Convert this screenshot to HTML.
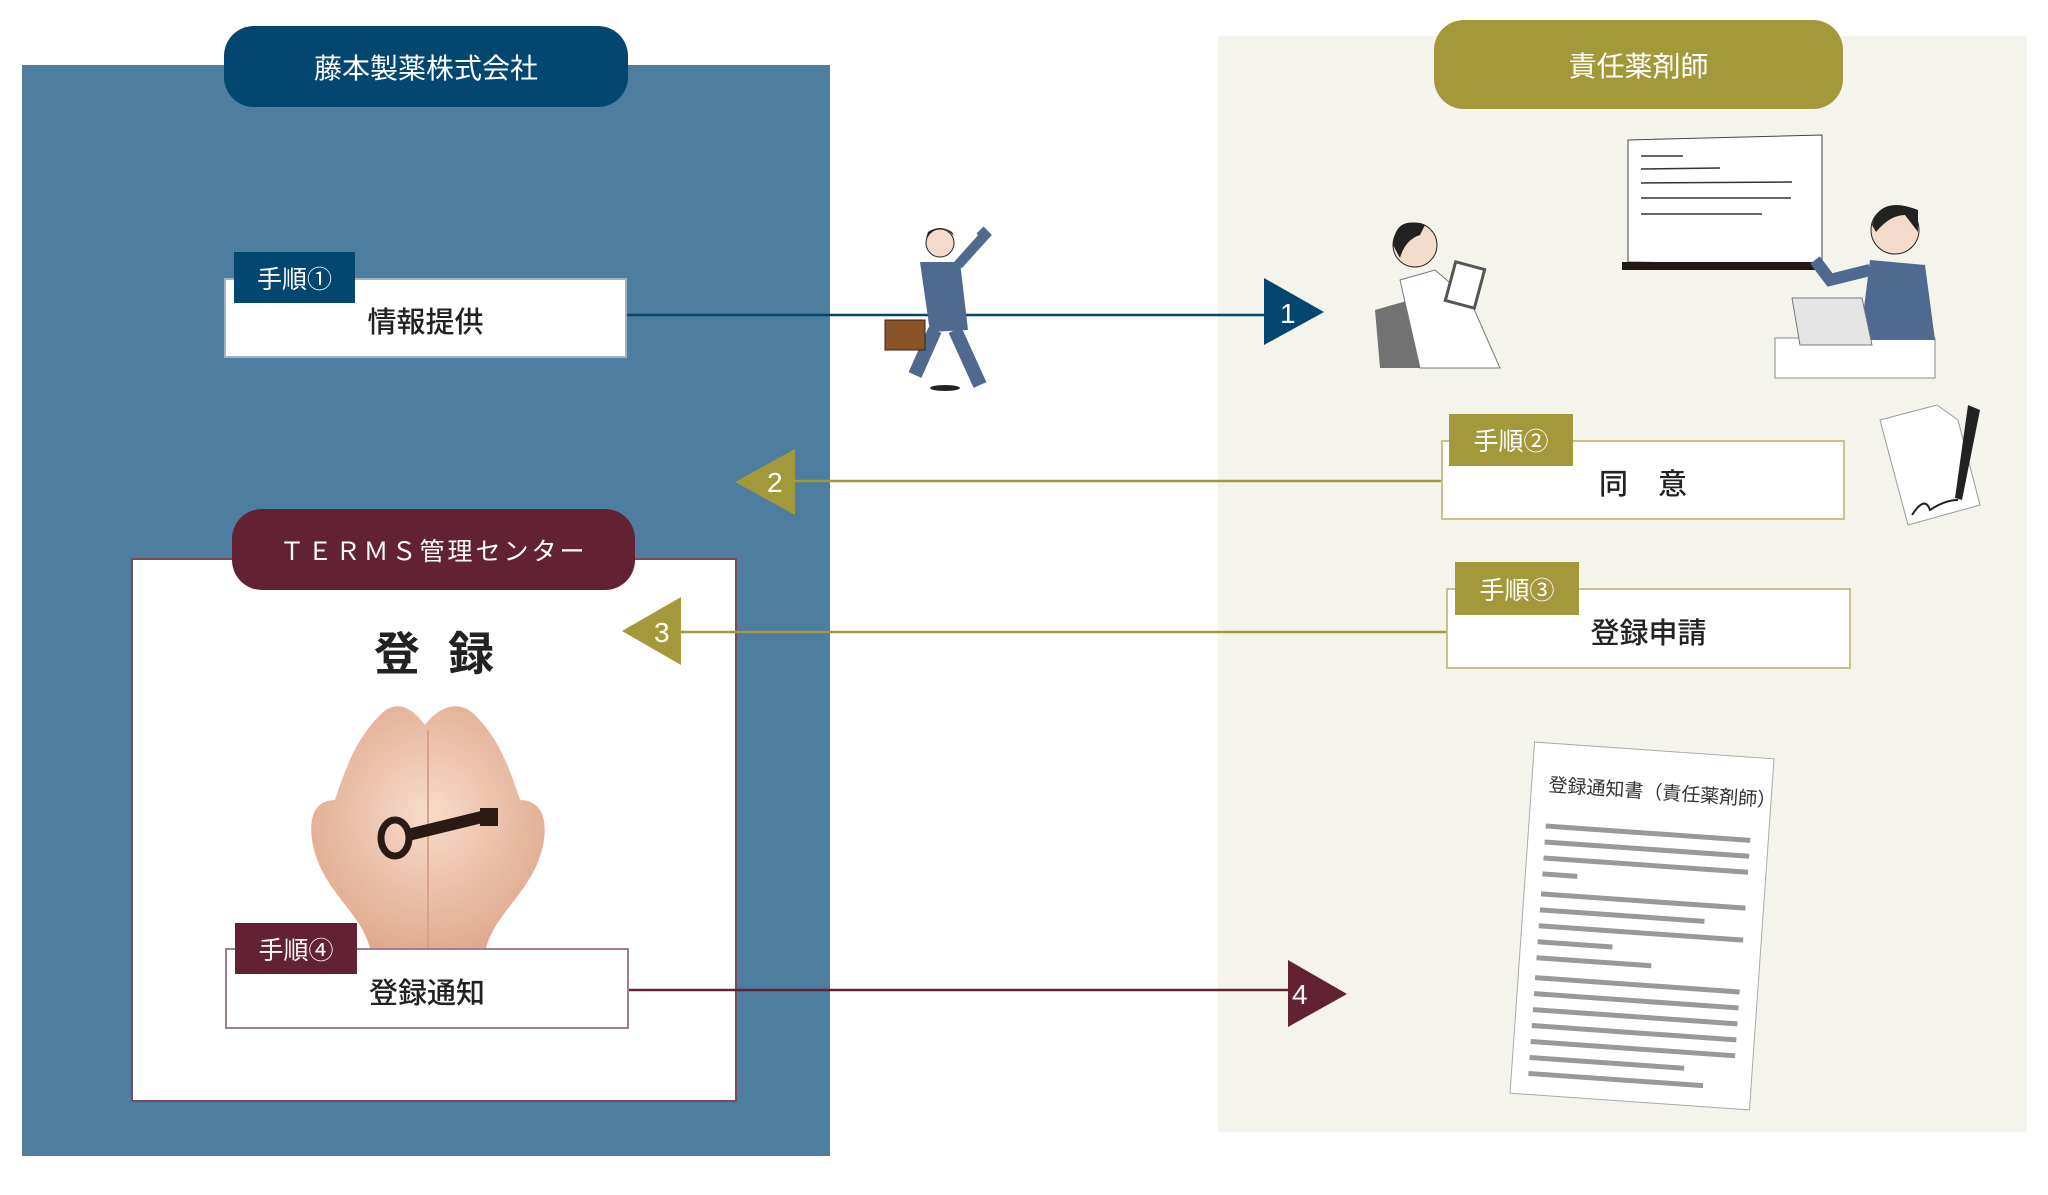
<!DOCTYPE html>
<html><head><meta charset="utf-8"><style>
body{margin:0;width:2048px;height:1195px;background:#fff;position:relative;overflow:hidden;font-family:"Liberation Sans","Noto Sans CJK JP",sans-serif}
.a{position:absolute;box-sizing:border-box}
.pill{border-radius:30px;color:#fff;font-size:28px;display:flex;align-items:center;justify-content:center}
.box{background:#fff;font-size:29px;color:#222;display:flex;align-items:center;justify-content:center;padding-top:4px;font-weight:500}
.tag{color:#fff;font-size:25px;display:flex;align-items:center;justify-content:center}
</style></head><body>
<div class="a" style="left:22px;top:65px;width:808px;height:1091px;background:#4d7d9f"></div>
<div class="a" style="left:1218px;top:36px;width:809px;height:1096px;background:#f5f4ec"></div>

<div class="a pill" style="left:224px;top:26px;width:404px;height:81px;background:#03466f">藤本製薬株式会社</div>
<div class="a pill" style="left:1434px;top:20px;width:409px;height:89px;background:#a4993a">責任薬剤師</div>

<div class="a box" style="left:224px;top:278px;width:403px;height:80px;border:2px solid #9db3c8">情報提供</div>
<div class="a tag" style="left:234px;top:252px;width:121px;height:51px;background:#03466f">手順①</div>

<div class="a" style="left:131px;top:558px;width:606px;height:544px;background:#fff;border:2px solid #7a4a5a"></div>
<div class="a pill" style="left:232px;top:509px;width:403px;height:81px;background:#632234;font-size:25px;letter-spacing:3px">ＴＥＲＭＳ管理センター</div>
<div class="a" style="left:131px;top:618px;width:606px;text-align:center;font-size:46px;color:#222;letter-spacing:28px;padding-left:28px;font-weight:bold">登録</div>

<svg class="a" style="left:300px;top:700px" width="260" height="250" viewBox="0 0 260 250">
<defs><radialGradient id="h" cx="50%" cy="45%" r="60%"><stop offset="0" stop-color="#f7dccb"/><stop offset="1" stop-color="#e0a88c"/></radialGradient></defs>
<path d="M70 248 C60 210 20 190 12 140 C8 110 20 100 35 100 C45 70 55 40 80 15 C95 0 110 5 125 25 C140 5 160 0 175 15 C200 40 210 70 220 100 C235 100 248 110 244 140 C236 190 196 210 186 248 Z" fill="url(#h)"/>
<path d="M128 30 L128 248" stroke="#d9a08a" stroke-width="2" fill="none"/>
<ellipse cx="95" cy="138" rx="14" ry="18" fill="none" stroke="#2a1a14" stroke-width="7"/>
<path d="M108 135 L190 115" stroke="#2a1a14" stroke-width="12"/>
<rect x="180" y="108" width="18" height="18" fill="#2a1a14"/>
</svg>

<div class="a box" style="left:225px;top:948px;width:404px;height:81px;border:2px solid #a08090">登録通知</div>
<div class="a tag" style="left:235px;top:923px;width:122px;height:51px;background:#632234">手順④</div>

<div class="a box" style="left:1441px;top:440px;width:404px;height:80px;border:2px solid #c9c08a;letter-spacing:30px;padding-left:30px">同意</div>
<div class="a tag" style="left:1449px;top:414px;width:124px;height:52px;background:#a4993a">手順②</div>
<div class="a box" style="left:1446px;top:588px;width:405px;height:81px;border:2px solid #c9c08a">登録申請</div>
<div class="a tag" style="left:1455px;top:562px;width:124px;height:53px;background:#a4993a">手順③</div>

<svg class="a" style="left:0;top:0" width="2048" height="1195">
<line x1="627" y1="315" x2="1266" y2="315" stroke="#03466f" stroke-width="2.5"/>
<polygon points="1264,278 1324,312 1264,345" fill="#03466f"/>
<text x="1280" y="323" fill="#fff" font-size="28">1</text>
<line x1="795" y1="481" x2="1441" y2="481" stroke="#a4993a" stroke-width="2.5"/>
<polygon points="795,449 735,482 795,515" fill="#a4993a"/>
<text x="767" y="492" fill="#fff" font-size="28">2</text>
<line x1="681" y1="632" x2="1446" y2="632" stroke="#a4993a" stroke-width="2.5"/>
<polygon points="681,597 622,631 681,665" fill="#a4993a"/>
<text x="654" y="642" fill="#fff" font-size="28">3</text>
<line x1="629" y1="990" x2="1290" y2="990" stroke="#632234" stroke-width="2.5"/>
<polygon points="1288,960 1347,994 1288,1027" fill="#632234"/>
<text x="1292" y="1004" fill="#fff" font-size="28">4</text>

<g>
<circle cx="940" cy="243" r="14" fill="#f3dccb" stroke="#222"/>
<path d="M926 238 Q940 220 954 236 L952 232 Q940 224 928 232Z" fill="#222"/>
<path d="M920 262 L960 262 L968 330 L930 332Z" fill="#4f6a8e"/>
<path d="M958 265 L985 235 L980 230" stroke="#4f6a8e" stroke-width="10" fill="none"/>
<path d="M935 330 L915 375 M955 330 L980 385" stroke="#4f6a8e" stroke-width="14"/>
<rect x="885" y="320" width="40" height="30" fill="#8a5328" stroke="#3a2010"/>
<ellipse cx="945" cy="388" rx="15" ry="3" fill="#222"/>
</g>
<g>
<path d="M1375 310 L1410 300 L1425 368 L1380 368Z" fill="#727272"/>
<path d="M1400 280 L1435 270 L1470 300 L1500 368 L1420 368Z" fill="#fff" stroke="#777"/>
<circle cx="1415" cy="245" r="22" fill="#f3dccb" stroke="#222"/>
<path d="M1393 245 Q1395 215 1425 225 L1420 235 Q1405 240 1400 258Z" fill="#222"/>
<rect x="1450" y="265" width="30" height="40" transform="rotate(15 1465 285)" fill="#fff" stroke="#555" stroke-width="3"/>
</g>
<polygon points="1628,140 1822,135 1822,265 1628,262" fill="#fff" stroke="#444"/>
<rect x="1622" y="262" width="200" height="8" fill="#231815"/>
<g stroke="#333" stroke-width="1.5"><line x1="1641" y1="156" x2="1683" y2="156"/><line x1="1641" y1="169" x2="1720" y2="168"/><line x1="1641" y1="183" x2="1792" y2="182"/><line x1="1641" y1="198" x2="1791" y2="198"/><line x1="1641" y1="214" x2="1762" y2="214"/></g>
<rect x="1775" y="338" width="160" height="40" fill="#fff" stroke="#888"/>
<path d="M1870 260 L1925 265 L1935 340 L1860 340Z" fill="#4f6a8e"/>
<path d="M1870 270 L1830 280 L1815 260" stroke="#4f6a8e" stroke-width="12" fill="none"/>
<circle cx="1895" cy="230" r="24" fill="#f3dccb" stroke="#222"/>
<path d="M1872 225 Q1880 195 1918 210 L1918 232 L1905 215 Q1890 215 1876 232Z" fill="#222"/>
<polygon points="1792,298 1862,298 1872,345 1800,345" fill="#e5e5e5" stroke="#777"/>
<polygon points="1880,420 1937,405 1958,420 1980,505 1908,525" fill="#fff" stroke="#999"/>
<path d="M1968 405 L1980 410 L1962 500 L1955 498Z" fill="#222"/>
<path d="M1912 515 Q1925 495 1930 510 Q1945 500 1958 500" stroke="#222" fill="none" stroke-width="2"/>
<g transform="translate(-6,-2) rotate(4 1648 928)">
<rect x="1528" y="752" width="240" height="352" fill="#fff" stroke="#aaa"/>
<text x="1545" y="800" font-size="19" fill="#333" font-family="Liberation Sans,Noto Sans CJK JP,sans-serif">登録通知書（責任薬剤師）</text>
<g stroke="#999" stroke-width="5">
<line x1="1545" y1="835" x2="1750" y2="835"/><line x1="1545" y1="851" x2="1750" y2="851"/><line x1="1545" y1="867" x2="1750" y2="867"/><line x1="1545" y1="883" x2="1580" y2="883"/>
<line x1="1545" y1="903" x2="1750" y2="903"/><line x1="1545" y1="919" x2="1710" y2="919"/><line x1="1545" y1="935" x2="1750" y2="935"/><line x1="1545" y1="951" x2="1620" y2="951"/><line x1="1545" y1="967" x2="1660" y2="967"/>
<line x1="1545" y1="987" x2="1750" y2="987"/><line x1="1545" y1="1003" x2="1750" y2="1003"/><line x1="1545" y1="1019" x2="1750" y2="1019"/><line x1="1545" y1="1035" x2="1750" y2="1035"/><line x1="1545" y1="1051" x2="1750" y2="1051"/><line x1="1545" y1="1067" x2="1700" y2="1067"/><line x1="1545" y1="1083" x2="1720" y2="1083"/>
</g></g>
</svg>
</body></html>
